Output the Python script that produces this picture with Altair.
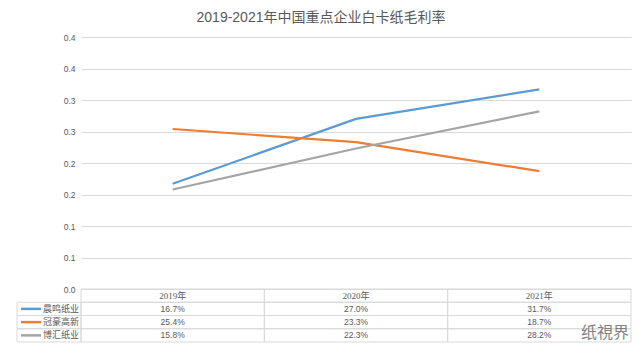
import altair as alt
import pandas as pd

title_text = "2019-2021年中国重点企业白卡纸毛利率"
years = ["2019年", "2020年", "2021年"]
series = ["晨鸣纸业", "冠豪高新", "博汇纸业"]
chenming = [0.167, 0.270, 0.317]
guanhao = [0.254, 0.233, 0.187]
bohui = [0.158, 0.223, 0.282]
colors = ["#5B9BD5", "#ED7D31", "#A5A5A5"]
y_ticks = [0.0, 0.05, 0.10, 0.15, 0.20, 0.25, 0.30, 0.35, 0.40]
header_row = "年份"
rows = [header_row] + series
watermark = "纸視界"

records = []
for name, vals in zip(series, [chenming, guanhao, bohui]):
    for yr, v in zip(years, vals):
        records.append({"year": yr, "series": name, "value": v, "row": name,
                        "label": f"{v * 100:.1f}%"})
df = pd.DataFrame(records)
header_df = pd.DataFrame({"year": years, "row": [header_row] * len(years), "label": years})
cells_df = pd.concat([header_df[["year", "row"]], df[["year", "row"]]], ignore_index=True)
legend_df = pd.DataFrame({"series": series, "row": series})
wm_df = pd.DataFrame({"t": [watermark]})

W, H = 550, 252
GRID = "#D9D9D9"
TXT = "#595959"
SANS = "Liberation Sans, Noto Sans CJK SC"
SERIF = "Liberation Serif, Noto Sans CJK SC"

x_scale = alt.Scale(type="band", domain=years, paddingInner=0, paddingOuter=0)
color_scale = alt.Scale(domain=series, range=colors)
row_scale = alt.Scale(type="band", domain=rows, range=[H, H + 53], paddingInner=0, paddingOuter=0)

lines = alt.Chart(df).mark_line(strokeWidth=2.2).encode(
    x=alt.X("year:N", scale=x_scale, axis=None, bandPosition=0.5),
    y=alt.Y("value:Q", scale=alt.Scale(domain=[0, 0.4], nice=False, zero=True),
            axis=alt.Axis(values=y_ticks, labelExpr="format(round(datum.value*10 + 0.001)/10, '.1f')",
                          grid=True, gridColor=GRID, gridWidth=1, domain=False, ticks=False,
                          labelColor=TXT, labelFontSize=8.5, labelFont=SANS, labelPadding=6,
                          title=None)),
    color=alt.Color("series:N", scale=color_scale, legend=None),
)

y_row = alt.Y("row:N", scale=row_scale, axis=None)
y_row_c = alt.Y("row:N", scale=row_scale, axis=None, bandPosition=0.5)

cells = alt.Chart(cells_df).mark_rect(fillOpacity=0, stroke=GRID, strokeWidth=1).encode(
    x=alt.X("year:N", scale=x_scale, axis=None),
    y=y_row,
)
legend_cells = alt.Chart(legend_df).mark_rect(fillOpacity=0, stroke=GRID, strokeWidth=1).encode(
    x=alt.value(-64), x2=alt.value(0),
    y=y_row,
)
header_text = alt.Chart(header_df).mark_text(font=SERIF, fontSize=9, color=TXT, baseline="middle").encode(
    x=alt.X("year:N", scale=x_scale, axis=None, bandPosition=0.5),
    y=y_row_c,
    text="label:N",
)
value_text = alt.Chart(df).mark_text(font=SANS, fontSize=8.5, color=TXT, baseline="middle").encode(
    x=alt.X("year:N", scale=x_scale, axis=None, bandPosition=0.5),
    y=y_row_c,
    text="label:N",
)
swatches = alt.Chart(legend_df).mark_rule(strokeWidth=2.5).encode(
    x=alt.value(-60), x2=alt.value(-40),
    y=y_row_c,
    color=alt.Color("series:N", scale=color_scale, legend=None),
)
legend_text = alt.Chart(legend_df).mark_text(font=SERIF, fontSize=9, color=TXT, align="right",
                                             baseline="middle").encode(
    x=alt.value(-2),
    y=y_row_c,
    text="series:N",
)
table = alt.layer(cells, legend_cells, header_text, value_text, swatches, legend_text).properties(
    view=alt.ViewBackground(strokeWidth=0, strokeOpacity=0)
)

wm = alt.Chart(wm_df).mark_text(font="Noto Sans CJK SC", fontSize=16, color="#6E6E6E",
                                opacity=0.85, align="center", baseline="middle").encode(
    x=alt.value(524), y=alt.value(296), text="t:N",
)

chart = alt.layer(table, lines, wm).resolve_scale(y="independent").properties(
    width=W, height=H,
    title=alt.TitleParams(title_text, anchor="middle", frame="group", dx=-35, offset=8,
                          fontSize=14, font=SANS, color=TXT, fontWeight="normal"),
    autosize=alt.AutoSizeParams(type="none"),
    padding={"left": 73, "top": 29, "right": 3, "bottom": 58},
    view=alt.ViewBackground(strokeWidth=0, strokeOpacity=0),
).configure_view(strokeWidth=0, strokeOpacity=0).configure_axis(domain=False, ticks=False).configure(background="white")

chart.save("out.html", embed_options={"renderer": "svg", "actions": False})
